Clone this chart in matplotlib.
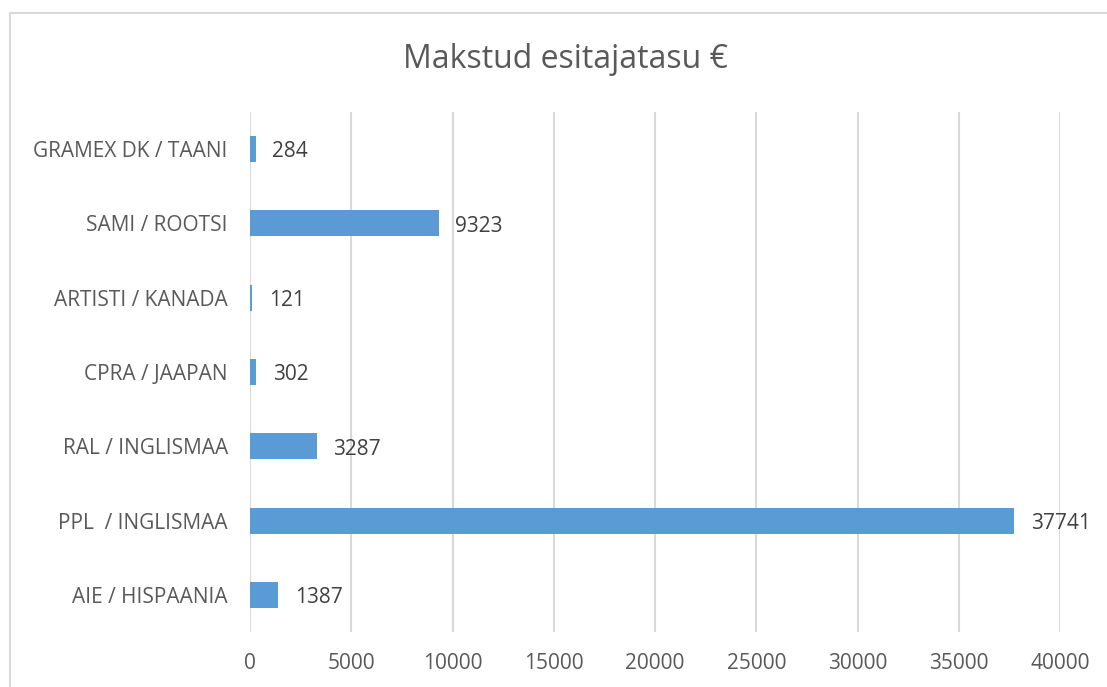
import matplotlib.pyplot as plt
from matplotlib.patches import Rectangle

# data, top to bottom as shown
categories = ["GRAMEX DK / TAANI", "SAMI / ROOTSI", "ARTISTI / KANADA",
              "CPRA / JAAPAN", "RAL / INGLISMAA", "PPL  / INGLISMAA",
              "AIE / HISPAANIA"]
values = [284, 9323, 121, 302, 3287, 37741, 1387]
x_ticks = [0, 5000, 10000, 15000, 20000, 25000, 30000, 35000, 40000]
title = "Makstud esitajatasu €"

plt.rcParams['font.family'] = ['Open Sans', 'DejaVu Sans']

W, H = 1107, 687
fig = plt.figure(figsize=(W / 100, H / 100), dpi=100)
ax = fig.add_axes([250 / W, 1 - 632 / H, (1060 - 250) / W, (632 - 112) / H])

# chart frame (only top and left visible in the crop)
fig.patches.append(Rectangle((10 / W, -0.1), 1.2, 1 - 13 / H + 0.1,
                             transform=fig.transFigure, fill=False,
                             edgecolor='#d9d9d9', linewidth=1.5))

ypos = list(range(len(categories)))[::-1]
bars = ax.barh(ypos, values, height=0.35, color='#5b9bd5', zorder=3)

for y, v in zip(ypos, values):
    ax.annotate(str(v), (v, y), xytext=(12, -2), textcoords='offset points',
                ha='left', va='center', fontsize=15, color='#404040')

ax.set_xlim(0, 40000)
ax.set_ylim(-0.5, len(categories) - 0.5)
ax.set_xticks(x_ticks)
ax.set_xticklabels([str(t) for t in x_ticks])
ax.set_yticks(ypos)
ax.set_yticklabels(categories)
ax.tick_params(axis='both', length=0, labelsize=15, labelcolor='#595959')
ax.tick_params(axis='x', pad=15)
ax.tick_params(axis='y', pad=16)

ax.grid(axis='x', color='#d9d9d9', linewidth=1.5, zorder=0)
for s in ax.spines.values():
    s.set_visible(False)

fig.text(565 / W, 1 - 60 / H, title, ha='center', va='center',
         fontsize=23, color='#595959')

fig.savefig('out.png', dpi=100)
